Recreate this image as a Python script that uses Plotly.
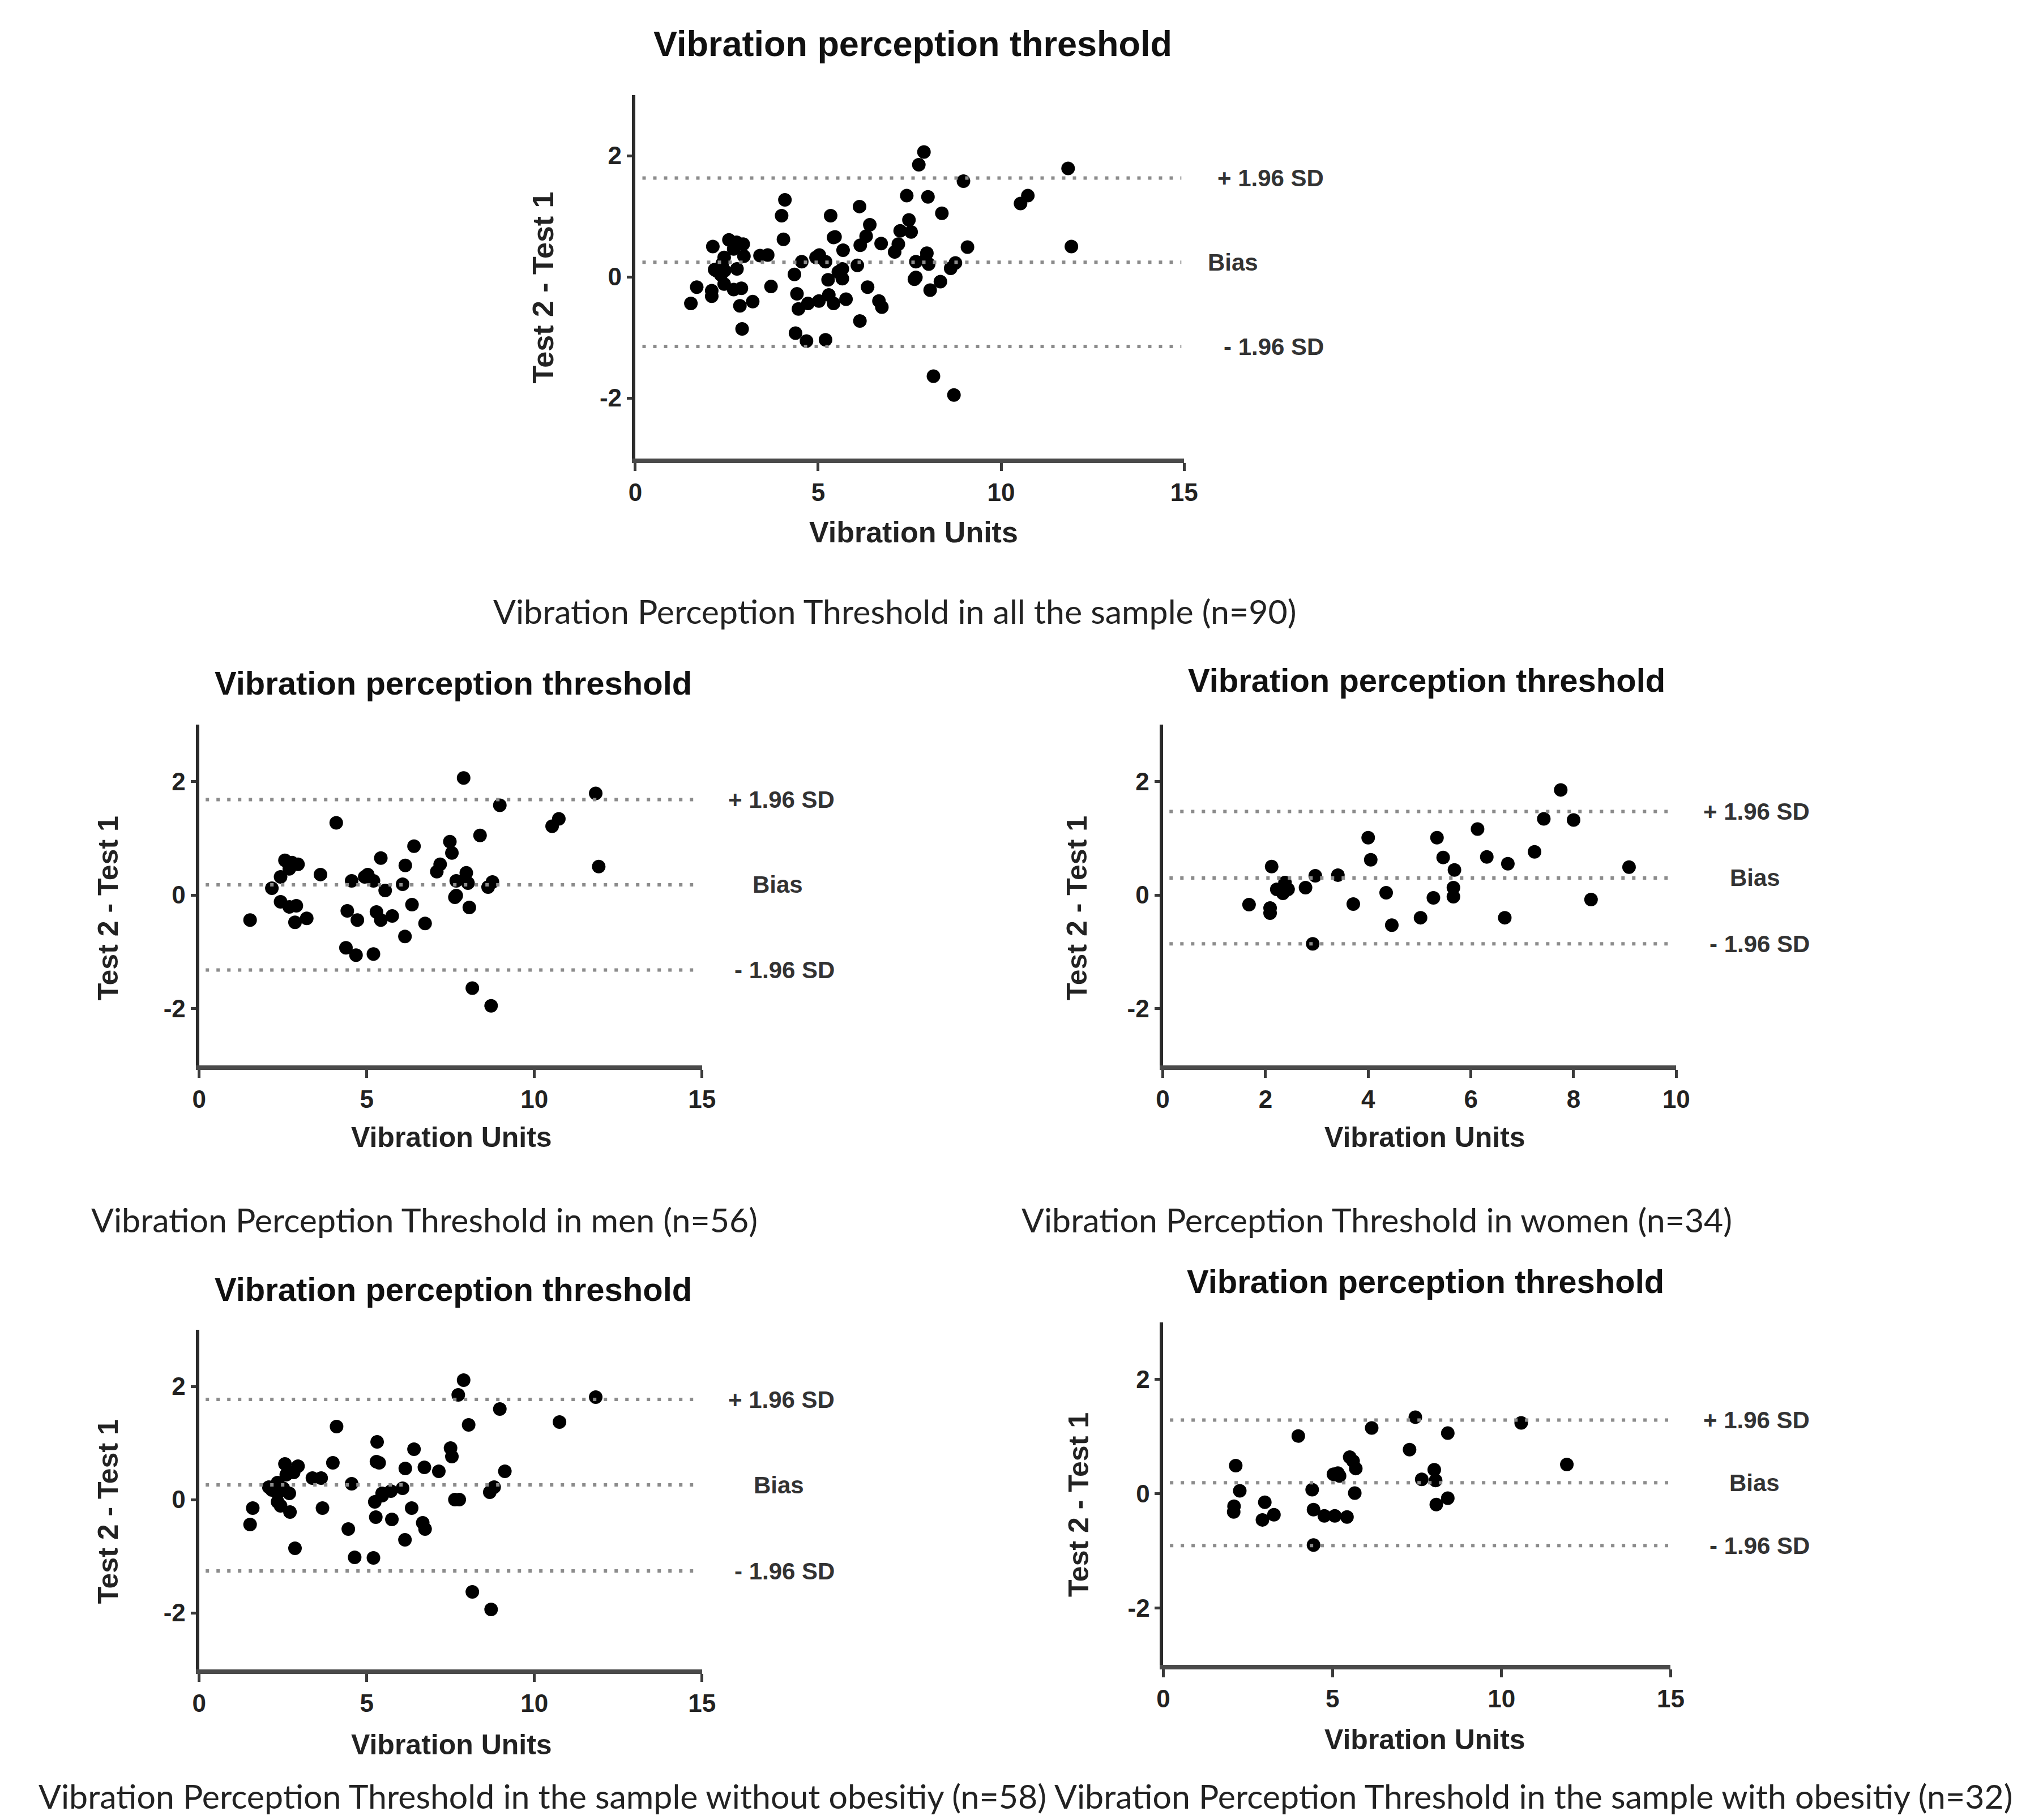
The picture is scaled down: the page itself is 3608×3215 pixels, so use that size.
import plotly.graph_objects as go

W, H = 3608, 3215

# men (n=56): mean of the two tests vs. difference
men_x = [7.89, 8.97, 11.83, 10.73, 10.53, 11.92, 4.09, 8.38, 6.41, 7.48,
         7.54, 7.19, 7.09, 5.42, 6.15, 5.03, 4.55, 3.62, 2.56, 2.95,
         2.69, 2.43, 2.17, 5.55, 6.07, 7.97, 7.67, 8.02, 8.75, 8.62,
         7.67, 7.63, 8.06, 2.43, 2.69, 2.90, 2.86, 3.21, 1.52, 4.42,
         4.72, 5.29, 5.42, 5.76, 6.35, 6.74, 6.14, 4.38, 4.68, 5.20,
         8.15, 8.71, 4.94, 5.20, 2.77, 7.93]
men_y = [2.06, 1.58, 1.79, 1.34, 1.21, 0.50, 1.27, 1.05, 0.86, 0.94,
         0.74, 0.54, 0.41, 0.65, 0.52, 0.36, 0.25, 0.36, 0.61, 0.54,
         0.46, 0.32, 0.12, 0.08, 0.19, 0.39, 0.25, 0.21, 0.23, 0.14,
         -0.01, -0.04, -0.22, -0.12, -0.21, -0.19, -0.48, -0.41, -0.44, -0.28,
         -0.44, -0.30, -0.44, -0.37, -0.17, -0.50, -0.73, -0.93, -1.06, -1.04,
         -1.64, -1.95, 0.32, 0.25, 0.57, 0.28]

# women (n=34)
women_x = [7.75, 7.42, 8.00, 6.13, 4.00, 5.34, 7.24, 6.31, 4.05, 5.46,
           6.72, 5.68, 9.08, 2.12, 3.41, 2.97, 2.78, 2.38, 2.34, 2.44,
           4.35, 5.66, 5.66, 5.27, 8.34, 1.68, 2.09, 2.09, 3.71, 5.02,
           6.66, 4.46, 2.92, 2.22]
women_y = [1.85, 1.34, 1.32, 1.16, 1.01, 1.01, 0.76, 0.67, 0.62, 0.66,
           0.55, 0.44, 0.49, 0.50, 0.35, 0.34, 0.13, 0.22, 0.03, 0.10,
           0.04, 0.13, -0.03, -0.05, -0.08, -0.17, -0.23, -0.32, -0.16, -0.40,
           -0.40, -0.53, -0.86, 0.10]

# without obesity (n=58)
nonob_x = [7.89, 7.73, 11.83, 8.97, 8.04, 10.75, 4.10, 5.31, 6.41, 7.50,
           7.54, 5.37, 3.99, 6.15, 6.72, 7.15, 9.12, 2.56, 2.95, 2.82,
           3.38, 3.64, 4.55, 2.34, 2.17, 2.51, 2.69, 6.07, 5.72, 8.80,
           8.67, 7.76, 5.46, 5.24, 2.34, 2.43, 1.60, 2.71, 3.68, 6.34,
           1.52, 5.27, 5.75, 6.67, 6.74, 4.45, 6.14, 2.86, 4.64, 5.20,
           8.15, 8.71, 2.60, 5.29, 5.46, 7.63, 2.08, 2.34]
nonob_y = [2.11, 1.85, 1.81, 1.60, 1.32, 1.37, 1.29, 1.02, 0.89, 0.91,
           0.76, 0.65, 0.65, 0.55, 0.57, 0.50, 0.50, 0.63, 0.59, 0.48,
           0.38, 0.38, 0.28, 0.30, 0.17, 0.20, 0.11, 0.20, 0.15, 0.22,
           0.13, 0.00, 0.07, -0.04, -0.04, -0.11, -0.15, -0.22, -0.15, -0.15,
           -0.44, -0.31, -0.35, -0.41, -0.52, -0.52, -0.71, -0.86, -1.02, -1.03,
           -1.63, -1.94, 0.44, 0.67, 0.11, 0.00, 0.22, 0.11]

# with obesity (n=32)
obese_x = [7.45, 10.58, 6.16, 3.99, 8.41, 7.28, 2.14, 11.93, 5.51, 5.69,
           5.03, 5.21, 8.01, 7.64, 8.05, 4.40, 5.66, 2.26, 2.09, 2.08,
           3.00, 3.27, 2.93, 4.44, 4.76, 5.07, 5.43, 8.41, 8.07, 4.44,
           5.16, 5.61]
obese_y = [1.34, 1.24, 1.15, 1.01, 1.06, 0.77, 0.49, 0.51, 0.64, 0.44,
           0.34, 0.31, 0.42, 0.25, 0.23, 0.07, 0.01, 0.05, -0.22, -0.32,
           -0.15, -0.37, -0.46, -0.28, -0.39, -0.39, -0.41, -0.08, -0.19, -0.90,
           0.36, 0.57]

# whole sample = men + women
all_x = men_x + women_x
all_y = men_y + women_y

# limits of agreement: upper (+1.96 SD), bias, lower (-1.96 SD)
all_limits = [1.63, 0.24, -1.15]
men_limits = [1.68, 0.18, -1.32]
women_limits = [1.47, 0.30, -0.86]
nonob_limits = [1.77, 0.26, -1.26]
obese_limits = [1.29, 0.19, -0.91]

y_ticks = [-2, 0, 2]
y_ticktext = ["-2", "0", "2"]

captions = [
    "Vibration Perception Threshold in all the sample (n=90)",
    "Vibration Perception Threshold in men (n=56)",
    "Vibration Perception Threshold in women (n=34)",
    "Vibration Perception Threshold in the sample without obesitiy (n=58)",
    "Vibration Perception Threshold in the sample with obesitiy (n=32)",
]

title_txt = "Vibration perception threshold"
xtitle_txt = "Vibration Units"
ytitle_txt = "Test 2 - Test 1"

# pixel boxes: left, right, top, bottom of each plot area
panels = [
    dict(x=all_x, y=all_y, lim=all_limits, xmax=15, dt=5, box=(1113, 2092, 160, 802),
         title=(1608, 69, 63), xt=(1610, 932, 52), yt=(948, 500),
         sd_right=2343, bias_c=2179, cap=(1576, 1071)),
    dict(x=men_x, y=men_y, lim=men_limits, xmax=15, dt=5, box=(335, 1232, 1272, 1874),
         title=(788, 1198, 58), xt=(785, 2001, 50), yt=(173, 1596),
         sd_right=1471, bias_c=1367, cap=(737, 2146)),
    dict(x=women_x, y=women_y, lim=women_limits, xmax=10, dt=2, box=(2054, 2970, 1272, 1874),
         title=(2525, 1194, 58), xt=(2522, 2001, 50), yt=(1901, 1596),
         sd_right=3210, bias_c=3111, cap=(2436, 2146)),
    dict(x=nonob_x, y=nonob_y, lim=nonob_limits, xmax=15, dt=5, box=(335, 1232, 2341, 2941),
         title=(788, 2269, 58), xt=(785, 3074, 50), yt=(173, 2662),
         sd_right=1471, bias_c=1369, cap=(947, 3164)),
    dict(x=obese_x, y=obese_y, lim=obese_limits, xmax=15, dt=5, box=(2055, 2960, 2328, 2933),
         title=(2523, 2255, 58), xt=(2522, 3065, 50), yt=(1904, 2650),
         sd_right=3210, bias_c=3110, cap=(2715, 3164)),
]

FONT = "Liberation Sans, Arial, sans-serif"

fig = go.Figure()
ann = []
shapes = []
axes = {}

for i, p in enumerate(panels):
    n = "" if i == 0 else str(i + 1)
    l, r, t, b = p["box"]
    fig.add_trace(go.Scatter(
        x=p["x"], y=p["y"], mode="markers",
        marker=dict(size=24, color="black"),
        xaxis="x" + n, yaxis="y" + n, showlegend=False,
    ))
    axes["xaxis" + n] = dict(
        domain=[l / W, r / W], anchor="y" + n, range=[0, p["xmax"]],
        tickvals=list(range(0, p["xmax"] + 1, p["dt"])),
        showline=True, linecolor="#4a4a4a", linewidth=8,
        ticks="outside", ticklen=14, tickwidth=5, tickcolor="#3a3a3a",
        showgrid=False, zeroline=False,
        tickfont=dict(family=FONT, size=44, color="#222", weight="bold"),
    )
    axes["yaxis" + n] = dict(
        domain=[1 - b / H, 1 - t / H], anchor="x" + n, range=[-3, 3],
        tickvals=y_ticks, ticktext=y_ticktext,
        showline=True, linecolor="#2a2a2a", linewidth=6,
        ticks="outside", ticklen=9, tickwidth=5, tickcolor="#3a3a3a",
        showgrid=False, zeroline=False,
        tickfont=dict(family=FONT, size=44, color="#222", weight="bold"),
    )
    # limit-of-agreement lines
    for v in p["lim"]:
        shapes.append(dict(
            type="line", xref="x%s domain" % n, yref="y" + n,
            x0=0.013, x1=0.995, y0=v, y1=v,
            line=dict(color="#8c8c8c", width=6, dash="6px,13px"),
        ))
    labels = ["+ 1.96 SD", "Bias", "- 1.96 SD"]
    for lab, v in zip(labels, p["lim"]):
        if lab == "Bias":
            ax, anc = p["bias_c"] / W, "center"
        else:
            ax, anc = p["sd_right"] / W, "right"
        ann.append(dict(
            x=ax, xref="paper", y=v, yref="y" + n, text="<b>%s</b>" % lab,
            xanchor=anc, yanchor="middle", showarrow=False,
            font=dict(family=FONT, size=42, color="#333"),
        ))
    tx, ty, ts = p["title"]
    ann.append(dict(
        x=tx / W, y=1 - ty / H, xref="paper", yref="paper",
        text="<b>%s</b>" % title_txt, showarrow=False,
        xanchor="center", yanchor="middle",
        font=dict(family=FONT, size=ts, color="#111"),
    ))
    xx, xy, xs = p["xt"]
    ann.append(dict(
        x=xx / W, y=1 - xy / H, xref="paper", yref="paper",
        text="<b>%s</b>" % xtitle_txt, showarrow=False,
        xanchor="center", yanchor="middle",
        font=dict(family=FONT, size=xs, color="#222"),
    ))
    yx, yy = p["yt"]
    ann.append(dict(
        x=yx / W, y=1 - yy / H, xref="paper", yref="paper",
        text="<b>%s</b>" % ytitle_txt, showarrow=False, textangle=-90,
        xanchor="center", yanchor="middle",
        font=dict(family=FONT, size=xs, color="#222"),
    ))
    cx, cy = p["cap"]
    ann.append(dict(
        x=cx / W, y=1 - cy / H, xref="paper", yref="paper",
        text=captions[i], showarrow=False,
        xanchor="center", yanchor="middle",
        font=dict(family="Lato, Open Sans, sans-serif", size=59, color="#222"),
    ))

fig.update_layout(
    width=W, height=H,
    margin=dict(l=0, r=0, t=0, b=0),
    paper_bgcolor="white", plot_bgcolor="white",
    annotations=ann, shapes=shapes,
    **axes,
)

fig.write_html("out.html")
